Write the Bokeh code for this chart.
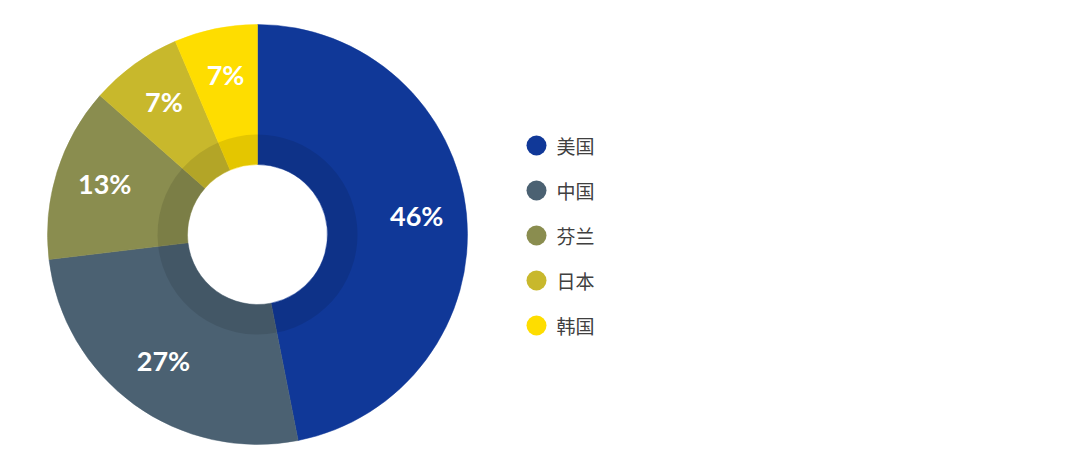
import math
from bokeh.plotting import figure
from bokeh.models import Range1d, ColumnDataSource
from bokeh.core.properties import value
from bokeh.embed import file_html
from bokeh.resources import INLINE

# ---- data ----
categories = ["美国", "中国", "芬兰", "日本", "韩国"]
shares = [46.9, 26.2, 13.4, 7.1, 6.4]
colors = ["#103898", "#4b6172", "#8a8d4f", "#c8b82c", "#fedd00"]
labels = ["46%", "27%", "13%", "7%", "7%"]

# ---- layout (pixel-like data coordinates, y up) ----
W, H = 1064, 458
cx, cy = 257, 474 - 234
r_in, r_ring, r_out, r_lab = 70, 100, 210, 160

total = float(sum(shares))
starts, ends, lx, ly = [], [], [], []
acc = 0.0
for s in shares:
    a0 = math.pi / 2 - 2 * math.pi * acc / total
    a1 = math.pi / 2 - 2 * math.pi * (acc + s) / total
    starts.append(a0)
    ends.append(a1)
    mid = (a0 + a1) / 2
    lx.append(cx + r_lab * math.cos(mid))
    ly.append(cy + r_lab * math.sin(mid))
    acc += s

src = ColumnDataSource(dict(cat=categories, start=starts, end=ends, color=colors,
                            lx=lx, ly=ly, label=labels))

p = figure(width=W, height=H, output_backend="svg", toolbar_location=None,
           x_range=Range1d(0, W), y_range=Range1d(474 - H, 474),
           min_border=0)
p.axis.visible = False
p.grid.visible = False
p.outline_line_color = None
p.background_fill_color = "white"

p.annular_wedge(x=cx, y=cy, inner_radius=r_in, outer_radius=r_out,
                start_angle="start", end_angle="end", direction="clock",
                fill_color="color", line_color="color", line_width=0.5, source=src)
p.annular_wedge(x=cx, y=cy, inner_radius=r_in, outer_radius=r_ring,
                start_angle="start", end_angle="end", direction="clock",
                fill_color="black", fill_alpha=0.1, line_color=None, source=src)

p.text(x="lx", y="ly", text="label", source=src, text_color="white",
       text_font=value("Lato"), text_font_style="bold", text_font_size="27px",
       text_align="center", text_baseline="middle", y_offset=-3)

# legend
leg_x = [536] * len(categories)
leg_y = [474 - (145 + 45 * i) for i in range(len(categories))]
lsrc = ColumnDataSource(dict(x=leg_x, y=leg_y, tx=[x + 20 for x in leg_x],
                             cat=categories, color=colors))
p.scatter(x="x", y="y", size=20, marker="circle", fill_color="color",
          line_color=None, source=lsrc)
p.text(x="tx", y="y", text="cat", source=lsrc, text_color="#404040",
       text_font=value("Noto Sans CJK SC"), text_font_size="19px",
       text_align="left", text_baseline="middle")

open("out.html", "w").write(file_html(p, INLINE))
